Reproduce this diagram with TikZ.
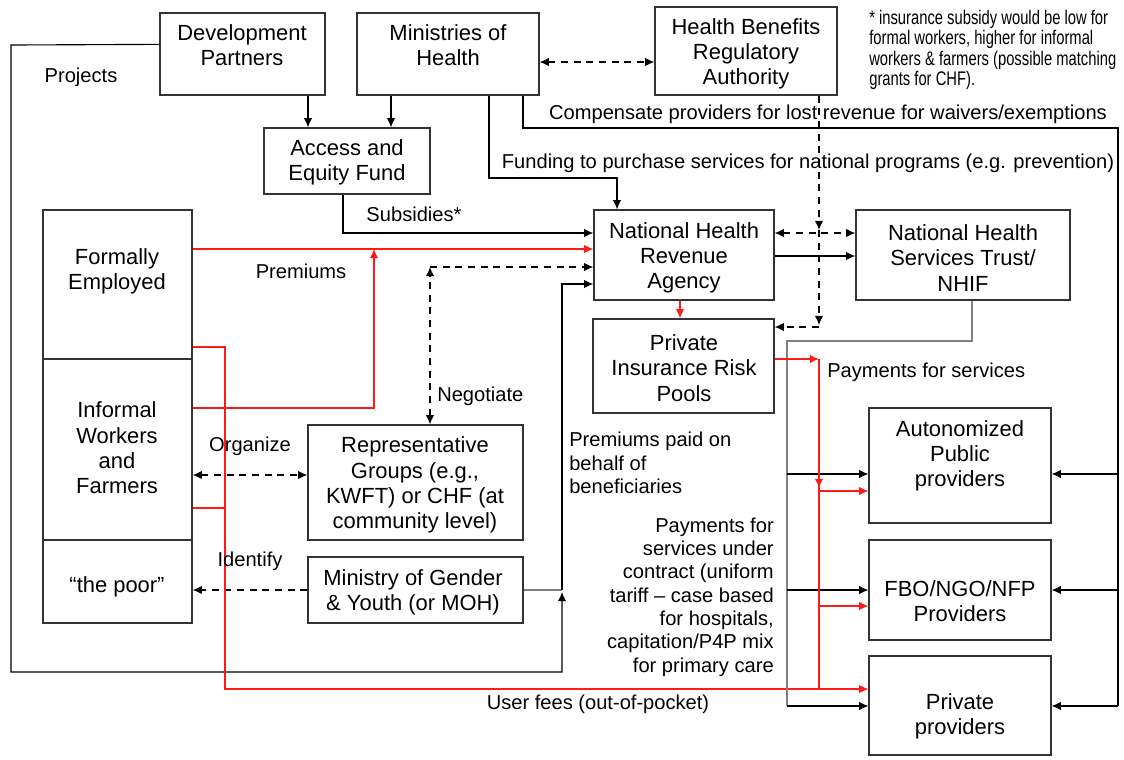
\documentclass[tikz,border=0pt]{standalone}
\usepackage{fontspec}
\setmainfont{Liberation Sans}
\newfontfamily\notefont[FakeStretch=0.75]{Liberation Sans}
\usetikzlibrary{arrows.meta,fit,calc}
\definecolor{boxline}{HTML}{333333}
\definecolor{flowred}{HTML}{FF1A1A}
\definecolor{flowgrey}{HTML}{808080}
\newcommand\boxfnt{\fontsize{15.6pt}{18pt}\selectfont}
\newcommand\lblfnt{\fontsize{14.3pt}{16.6pt}\selectfont}
\tikzset{
  box/.style     = {draw=boxline, line width=0.9pt, inner sep=0pt},
  boxtxt/.style  = {inner sep=0pt, align=center, font=\boxfnt},
  lbl/.style     = {inner sep=0pt, font=\lblfnt},
  flow/.style    = {line width=0.8pt},
  arr/.style     = {flow, ->},
  dasharr/.style = {flow, dash pattern=on 5pt off 4pt},
  redarr/.style  = {flow, draw=flowred, ->},
  redline/.style = {flow, draw=flowred},
  greyline/.style= {flow, draw=flowgrey},
}

\begin{document}
\begin{tikzpicture}[x=0.025cm, y=-0.025cm, >={Latex[length=2.3mm,width=2.1mm]}]
  \useasboundingbox (0,0) rectangle (1124,759);
  % top row
  \node[box, fit={(160,13) (325,95)}] (dp) {};
  \node[boxtxt] (dp-t) at (242,45) {Development\\Partners};
  \node[box, fit={(357,13) (539,95)}] (moh) {};
  \node[boxtxt] (moh-t) at (448,45) {Ministries of\\Health};
  \node[box, fit={(655,7) (837,95)}] (hbra) {};
  \node[boxtxt] (hbra-t) at (746,54) {Health Benefits\\Regulatory\\Authority};
  \node[anchor=north west, inner sep=0pt, align=left, font=\notefont\fontsize{14pt}{14.5pt}\selectfont]
    (note) at (869,10) {* insurance subsidy would be low for\\formal workers, higher for informal\\workers \& farmers (possible matching\\grants for CHF).};
  \node[box, fit={(264,128) (430,194)}] (aef) {};
  \node[boxtxt] (aef-t) at (347,162) {Access and\\Equity Fund};
  % agencies
  \node[box, fit={(594,210) (774,300)}] (nhra) {};
  \node[boxtxt] (nhra-t) at (684,258) {National Health\\Revenue\\Agency};
  \node[box, fit={(856,210) (1070,300)}] (nhst) {};
  \node[boxtxt] (nhst-t) at (963,258) {National Health\\Services Trust/\\NHIF};
  \node[box, fit={(593,319) (774,413)}] (pirp) {};
  \node[boxtxt] (pirp-t) at (684,368) {Private\\Insurance Risk\\Pools};
  % population groups
  \node[box, fit={(43,210) (192,359)}] (fe) {};
  \node[boxtxt] (fe-t) at (117,271) {Formally\\Employed};
  \node[box, fit={(43,359) (192,540)}] (inf) {};
  \node[boxtxt] (inf-t) at (117,448) {Informal\\Workers\\and\\Farmers};
  \node[box, fit={(43,540) (192,623)}] (poor) {};
  \node[boxtxt] (poor-t) at (117,587) {“the poor”};
  \node[box, fit={(308,425) (523,540)}] (rep) {};
  \node[boxtxt] (rep-t) at (415,485) {Representative\\Groups (e.g.,\\KWFT) or CHF (at\\community level)};
  \node[box, fit={(308,557) (523,623)}] (mgy) {};
  \node[boxtxt] (mgy-t) at (413,592) {Ministry of Gender\\\& Youth (or MOH)};
  % providers
  \node[box, fit={(869,408) (1051,523)}] (auto) {};
  \node[boxtxt] (auto-t) at (960,456) {Autonomized\\Public\\providers};
  \node[box, fit={(869,540) (1051,640)}] (fbo) {};
  \node[boxtxt] (fbo-t) at (960,601) {FBO/NGO/NFP\\Providers};
  \node[box, fit={(869,656) (1051,755)}] (priv) {};
  \node[boxtxt] (priv-t) at (960,716) {Private\\providers};

  % flows from the top
  \draw[arr] ($(dp.north west)+(0,32)$) -- (11,45) -- (11,672) -- (562,672) -- (562,592);
  \draw[arr] (dp.south -| 308,0) -- (aef.north -| 308,0);
  \draw[arr] (moh.south -| 391,0) -- (aef.north -| 391,0);
  \draw[dasharr, <->] (moh.east |- 0,62) -- (hbra.west |- 0,62);
  \draw[arr] (moh.south -| 489,0) |- (617,178) -- (nhra.north -| 617,0);
  \draw[flow] (moh.south -| 523,0) |- (1118,128) -- (1118,706);
  \foreach \n/\y in {auto/474, fbo/590, priv/706}
    \draw[arr] (1118,\y) -- (\n.east |- 0,\y);
  \draw[arr] (aef.south -| 343,0) |- (nhra.west |- 0,233);
  % premiums
  \draw[redarr] (fe.east |- 0,249) -- (nhra.west |- 0,249);
  \draw[redarr] (inf.east |- 0,408) -| (374,249);
  \draw[dasharr, <->] (rep.north -| 430,0) -- (430,267);
  \draw[dasharr, ->] (430,267) -- (nhra.west |- 0,267);
  \draw[dasharr, <->] (inf.east |- 0,475) -- (rep.west |- 0,475);
  \draw[dasharr, ->] (mgy.west) -- (poor.east |- mgy.west);
  \draw[greyline] (mgy.east) -- (562,590);
  \draw[arr] (562,590) -- (562,284) -- (nhra.west |- 0,284);
  % user fees
  \draw[redarr] (fe.east |- 0,347) -| (225,689) -- (priv.west |- 0,689);
  \draw[redline] (inf.east |- 0,508) -- (225,508);
  % agencies to pools and providers
  \draw[dasharr, <->] (nhra.east |- 0,233) -- (nhst.west |- 0,233);
  \draw[arr] (nhra.east |- 0,256) -- (nhst.west |- 0,256);
  \draw[redarr] (nhra.south -| 680,0) -- (pirp.north -| 680,0);
  \draw[dasharr, ->] (hbra.south -| 819,0) -- (819,230);
  \draw[dasharr, ->] (819,230) -- (819,325);
  \draw[dasharr, ->] (819,327) -- (pirp.east |- 0,327);
  \draw[greyline] (nhst.south -| 972,0) |- (787,341) -- (787,706);
  \foreach \n/\y in {auto/474, fbo/590, priv/706}
    \draw[arr] (787,\y) -- (\n.west |- 0,\y);
  \draw[redarr] (pirp.east |- 0,359) -- (819,359);
  \draw[redline] (819,359) -- (819,689);
  \draw[redarr] (819,359) -- (819,488);
  \draw[redarr] (819,491) -- (auto.west |- 0,491);
  \draw[redarr] (819,606) -- (fbo.west |- 0,606);

  % labels
  \node[lbl] (l-proj) at (81,77) {Projects};
  \node[lbl] (l-subs) at (414,214) {Subsidies*};
  \node[lbl] (l-prem) at (301,271) {Premiums};
  \node[lbl, anchor=west] (l-neg) at (437,396) {Negotiate};
  \node[lbl] (l-org) at (250,446) {Organize};
  \node[lbl] (l-ident) at (250,561) {Identify};
  \node[lbl] (l-comp) at (828,114) {Compensate providers for lost revenue for waivers/exemptions};
  \node[lbl] (l-fund) at (808,163) {Funding to purchase services for national programs (e.g. prevention)};
  \node[lbl, anchor=west, align=left] (l-behalf) at (569,463) {Premiums paid on\\behalf of\\beneficiaries};
  \node[lbl, anchor=west] (l-pay) at (827,372) {Payments for services};
  \node[lbl, anchor=east, align=right] (l-contract) at (774,597)
    {Payments for\\services under\\contract (uniform\\tariff -- case based\\for hospitals,\\capitation/P4P mix\\for primary care};
  \node[lbl] (l-fees) at (598,704) {User fees (out-of-pocket)};
\end{tikzpicture}
\end{document}
